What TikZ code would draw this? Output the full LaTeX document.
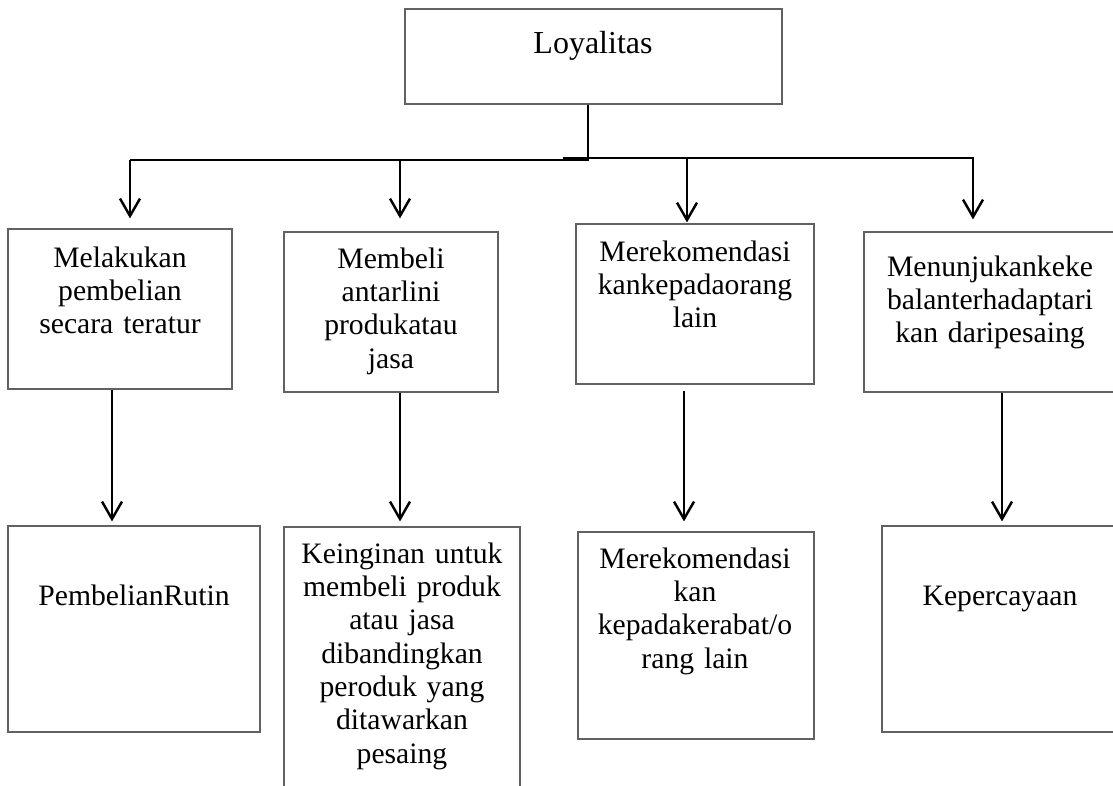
\documentclass[tikz,border=0pt]{standalone}
\usepackage{fontspec}
\setmainfont{Liberation Serif}
\usetikzlibrary{arrows.meta,fit}
\begin{document}
\begin{tikzpicture}[x=0.75pt,y=-0.75pt,
  box/.style={draw=black!62, line width=0.9pt, inner sep=0pt},
  txt/.style={anchor=base, align=center, text width=200pt, inner sep=0pt,
    font=\fontsize{22.25pt}{25pt}\selectfont},
  conn/.style={line width=1.85pt, black},
  arr/.style={conn, -{Straight Barb[length=13pt,width=15pt,line width=1.85pt]}}]
\useasboundingbox (0,0) rectangle (1113,785);
\clip (0,0) rectangle (1113,785);

% boxes
\node[box, fit={(405,9) (782,104)}] (T) {};
\node[box, fit={(8,229) (232,389)}] (b1) {};
\node[box, fit={(284,232) (498,392)}] (b2) {};
\node[box, fit={(576,224) (814,384)}] (b3) {};
\node[box, fit={(864,232) (1118,392)}] (b4) {};
\node[box, fit={(8,526) (260,732)}] (d1) {};
\node[box, fit={(284,527) (520,800)}] (d2) {};
\node[box, fit={(578,532) (814,739)}] (d3) {};
\node[box, fit={(882,526) (1118,732)}] (d4) {};

% texts
\node[txt, font=\fontsize{24pt}{26pt}\selectfont] (Tt) at (593,53) {Loyalitas};
\node[txt] (b1t) at (120,267) {Melakukan\\pembelian\\secara teratur};
\node[txt] (b2t) at (391,268) {Membeli\\antarlini\\produkatau\\jasa};
\node[txt] (b3t) at (695,261) {Merekomendasi\\kankepadaorang\\lain};
\node[txt] (b4t) at (990,276) {Menunjukankeke\\balanterhadaptari\\kan daripesaing};
\node[txt] (d1t) at (134,605) {PembelianRutin};
\node[txt] (d2t) at (402,563) {Keinginan untuk\\membeli produk\\atau jasa\\dibandingkan\\peroduk yang\\ditawarkan\\pesaing};
\node[txt] (d3t) at (695,568) {Merekomendasi\\kan\\kepadakerabat/o\\rang lain};
\node[txt] (d4t) at (1000,605) {Kepercayaan};

% trunk
\coordinate (j) at (588,160);
\coordinate (h1) at (130,160);
\coordinate (h2) at (400,160);
\coordinate (js) at (563,158);
\coordinate (h3) at (687,158);
\coordinate (h4) at (973,158);
\coordinate (he) at (974,158);
\draw[conn] (T.south -| j) -- (j) -- (h1);
\draw[conn] (js) -- (he);

% arrows to second row
\draw[arr, shorten >=7.5pt] (h1) -- (b1.north -| h1);
\draw[arr, shorten >=9.75pt] (h2) -- (b2.north -| h2);
\draw[arr, shorten >=0.75pt] (h3) -- (b3.north -| h3);
\draw[arr, shorten >=9pt] (h4) -- (b4.north -| h4);

% arrows to third row
\coordinate (v1) at (112,0);
\coordinate (v2) at (400,0);
\coordinate (v3) at (684,0);
\coordinate (v4) at (1002,0);
\draw[arr, shorten >=3pt] (b1.south -| v1) -- (d1.north -| v1);
\draw[arr, shorten >=3.75pt] (b2.south -| v2) -- (d2.north -| v2);
\draw[arr, shorten <=4.5pt, shorten >=7.5pt] (b3.south -| v3) -- (d3.north -| v3);
\draw[arr, shorten >=3pt] (b4.south -| v4) -- (d4.north -| v4);
\end{tikzpicture}
\end{document}
